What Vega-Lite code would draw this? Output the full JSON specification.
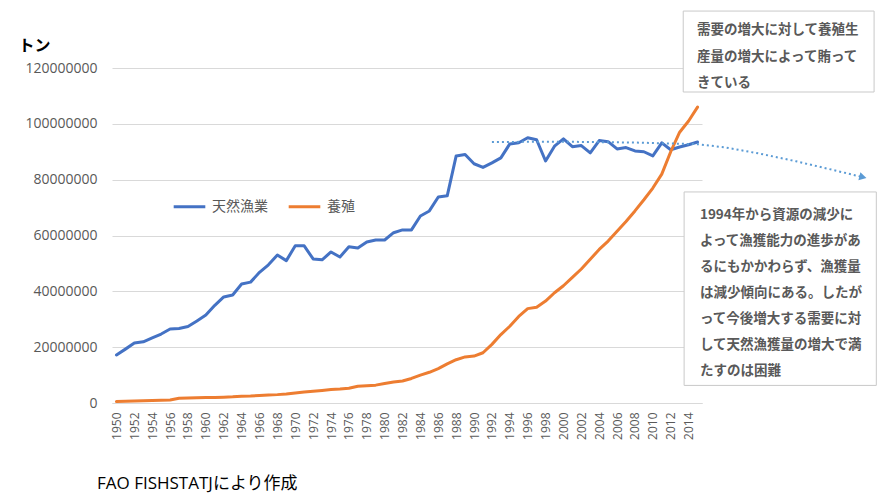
{
  "$schema": "https://vega.github.io/schema/vega-lite/v6.json",
  "autosize": {"type": "none"},
  "padding": {"left": 112, "top": 68, "right": 184, "bottom": 97},
  "width": 590,
  "height": 335,
  "background": "white",
  "config": {
    "view": {"stroke": null},
    "font": "Open Sans, Noto Sans CJK JP"
  },
  "title": {
    "text": "FAO FISHSTATJにより作成",
    "orient": "bottom",
    "anchor": "start",
    "frame": "group",
    "dx": -15,
    "offset": 37,
    "fontSize": 17,
    "fontWeight": "normal",
    "color": "#000000",
    "font": "Open Sans, Noto Sans CJK JP"
  },
  "resolve": {"scale": {"x": "independent", "y": "independent"}, "axis": {"x": "independent", "y": "independent"}},
  "datasets": {
    "main": [
      {"year": 1950, "series": "天然漁業", "value": 17200000},
      {"year": 1951, "series": "天然漁業", "value": 19300000},
      {"year": 1952, "series": "天然漁業", "value": 21500000},
      {"year": 1953, "series": "天然漁業", "value": 21900000},
      {"year": 1954, "series": "天然漁業", "value": 23300000},
      {"year": 1955, "series": "天然漁業", "value": 24700000},
      {"year": 1956, "series": "天然漁業", "value": 26500000},
      {"year": 1957, "series": "天然漁業", "value": 26700000},
      {"year": 1958, "series": "天然漁業", "value": 27400000},
      {"year": 1959, "series": "天然漁業", "value": 29400000},
      {"year": 1960, "series": "天然漁業", "value": 31500000},
      {"year": 1961, "series": "天然漁業", "value": 35000000},
      {"year": 1962, "series": "天然漁業", "value": 38000000},
      {"year": 1963, "series": "天然漁業", "value": 38700000},
      {"year": 1964, "series": "天然漁業", "value": 42600000},
      {"year": 1965, "series": "天然漁業", "value": 43300000},
      {"year": 1966, "series": "天然漁業", "value": 46800000},
      {"year": 1967, "series": "天然漁業", "value": 49500000},
      {"year": 1968, "series": "天然漁業", "value": 53000000},
      {"year": 1969, "series": "天然漁業", "value": 51000000},
      {"year": 1970, "series": "天然漁業", "value": 56300000},
      {"year": 1971, "series": "天然漁業", "value": 56300000},
      {"year": 1972, "series": "天然漁業", "value": 51600000},
      {"year": 1973, "series": "天然漁業", "value": 51300000},
      {"year": 1974, "series": "天然漁業", "value": 54100000},
      {"year": 1975, "series": "天然漁業", "value": 52300000},
      {"year": 1976, "series": "天然漁業", "value": 56000000},
      {"year": 1977, "series": "天然漁業", "value": 55500000},
      {"year": 1978, "series": "天然漁業", "value": 57700000},
      {"year": 1979, "series": "天然漁業", "value": 58400000},
      {"year": 1980, "series": "天然漁業", "value": 58400000},
      {"year": 1981, "series": "天然漁業", "value": 61000000},
      {"year": 1982, "series": "天然漁業", "value": 62000000},
      {"year": 1983, "series": "天然漁業", "value": 62000000},
      {"year": 1984, "series": "天然漁業", "value": 67000000},
      {"year": 1985, "series": "天然漁業", "value": 68800000},
      {"year": 1986, "series": "天然漁業", "value": 73800000},
      {"year": 1987, "series": "天然漁業", "value": 74200000},
      {"year": 1988, "series": "天然漁業", "value": 88500000},
      {"year": 1989, "series": "天然漁業", "value": 89000000},
      {"year": 1990, "series": "天然漁業", "value": 85700000},
      {"year": 1991, "series": "天然漁業", "value": 84400000},
      {"year": 1992, "series": "天然漁業", "value": 86000000},
      {"year": 1993, "series": "天然漁業", "value": 87800000},
      {"year": 1994, "series": "天然漁業", "value": 92800000},
      {"year": 1995, "series": "天然漁業", "value": 93200000},
      {"year": 1996, "series": "天然漁業", "value": 95000000},
      {"year": 1997, "series": "天然漁業", "value": 94300000},
      {"year": 1998, "series": "天然漁業", "value": 86700000},
      {"year": 1999, "series": "天然漁業", "value": 92000000},
      {"year": 2000, "series": "天然漁業", "value": 94600000},
      {"year": 2001, "series": "天然漁業", "value": 91800000},
      {"year": 2002, "series": "天然漁業", "value": 92200000},
      {"year": 2003, "series": "天然漁業", "value": 89600000},
      {"year": 2004, "series": "天然漁業", "value": 94000000},
      {"year": 2005, "series": "天然漁業", "value": 93600000},
      {"year": 2006, "series": "天然漁業", "value": 91000000},
      {"year": 2007, "series": "天然漁業", "value": 91500000},
      {"year": 2008, "series": "天然漁業", "value": 90300000},
      {"year": 2009, "series": "天然漁業", "value": 90000000},
      {"year": 2010, "series": "天然漁業", "value": 88500000},
      {"year": 2011, "series": "天然漁業", "value": 93200000},
      {"year": 2012, "series": "天然漁業", "value": 90700000},
      {"year": 2013, "series": "天然漁業", "value": 91700000},
      {"year": 2014, "series": "天然漁業", "value": 92500000},
      {"year": 2015, "series": "天然漁業", "value": 93500000},
      {"year": 1950, "series": "養殖", "value": 500000},
      {"year": 1951, "series": "養殖", "value": 600000},
      {"year": 1952, "series": "養殖", "value": 700000},
      {"year": 1953, "series": "養殖", "value": 800000},
      {"year": 1954, "series": "養殖", "value": 900000},
      {"year": 1955, "series": "養殖", "value": 1000000},
      {"year": 1956, "series": "養殖", "value": 1100000},
      {"year": 1957, "series": "養殖", "value": 1700000},
      {"year": 1958, "series": "養殖", "value": 1800000},
      {"year": 1959, "series": "養殖", "value": 1900000},
      {"year": 1960, "series": "養殖", "value": 2000000},
      {"year": 1961, "series": "養殖", "value": 2000000},
      {"year": 1962, "series": "養殖", "value": 2100000},
      {"year": 1963, "series": "養殖", "value": 2200000},
      {"year": 1964, "series": "養殖", "value": 2400000},
      {"year": 1965, "series": "養殖", "value": 2500000},
      {"year": 1966, "series": "養殖", "value": 2700000},
      {"year": 1967, "series": "養殖", "value": 2900000},
      {"year": 1968, "series": "養殖", "value": 3000000},
      {"year": 1969, "series": "養殖", "value": 3200000},
      {"year": 1970, "series": "養殖", "value": 3600000},
      {"year": 1971, "series": "養殖", "value": 3900000},
      {"year": 1972, "series": "養殖", "value": 4200000},
      {"year": 1973, "series": "養殖", "value": 4500000},
      {"year": 1974, "series": "養殖", "value": 4800000},
      {"year": 1975, "series": "養殖", "value": 5000000},
      {"year": 1976, "series": "養殖", "value": 5300000},
      {"year": 1977, "series": "養殖", "value": 6000000},
      {"year": 1978, "series": "養殖", "value": 6200000},
      {"year": 1979, "series": "養殖", "value": 6400000},
      {"year": 1980, "series": "養殖", "value": 7000000},
      {"year": 1981, "series": "養殖", "value": 7500000},
      {"year": 1982, "series": "養殖", "value": 7900000},
      {"year": 1983, "series": "養殖", "value": 8800000},
      {"year": 1984, "series": "養殖", "value": 10000000},
      {"year": 1985, "series": "養殖", "value": 11000000},
      {"year": 1986, "series": "養殖", "value": 12300000},
      {"year": 1987, "series": "養殖", "value": 14000000},
      {"year": 1988, "series": "養殖", "value": 15500000},
      {"year": 1989, "series": "養殖", "value": 16500000},
      {"year": 1990, "series": "養殖", "value": 16800000},
      {"year": 1991, "series": "養殖", "value": 18000000},
      {"year": 1992, "series": "養殖", "value": 21000000},
      {"year": 1993, "series": "養殖", "value": 24500000},
      {"year": 1994, "series": "養殖", "value": 27500000},
      {"year": 1995, "series": "養殖", "value": 31000000},
      {"year": 1996, "series": "養殖", "value": 33800000},
      {"year": 1997, "series": "養殖", "value": 34300000},
      {"year": 1998, "series": "養殖", "value": 36500000},
      {"year": 1999, "series": "養殖", "value": 39500000},
      {"year": 2000, "series": "養殖", "value": 42000000},
      {"year": 2001, "series": "養殖", "value": 45000000},
      {"year": 2002, "series": "養殖", "value": 48000000},
      {"year": 2003, "series": "養殖", "value": 51500000},
      {"year": 2004, "series": "養殖", "value": 55000000},
      {"year": 2005, "series": "養殖", "value": 58000000},
      {"year": 2006, "series": "養殖", "value": 61500000},
      {"year": 2007, "series": "養殖", "value": 65000000},
      {"year": 2008, "series": "養殖", "value": 68800000},
      {"year": 2009, "series": "養殖", "value": 72800000},
      {"year": 2010, "series": "養殖", "value": 77000000},
      {"year": 2011, "series": "養殖", "value": 82000000},
      {"year": 2012, "series": "養殖", "value": 90000000},
      {"year": 2013, "series": "養殖", "value": 97000000},
      {"year": 2014, "series": "養殖", "value": 101000000},
      {"year": 2015, "series": "養殖", "value": 106000000}
    ],
    "trend": [
      {"year": 1992, "value": 93500000},
      {"year": 2000, "value": 93600000},
      {"year": 2008, "value": 93300000},
      {"year": 2015, "value": 92700000},
      {"year": 2018, "value": 91600000},
      {"year": 2022, "value": 89300000},
      {"year": 2026, "value": 86600000},
      {"year": 2030, "value": 83600000},
      {"year": 2033.5, "value": 80900000}
    ],
    "arrowhead": [
      {"year": 2033.5, "value": 80900000}
    ]
  },
  "layer": [
    {
      "data": {"name": "main"},
      "mark": {"type": "line", "strokeWidth": 3, "strokeCap": "round", "strokeJoin": "round"},
      "encoding": {
        "x": {
          "field": "year", "type": "quantitative",
          "scale": {"domain": [1949.5, 2015.5], "nice": false, "zero": false},
          "axis": {
            "title": null,
            "values": [1950,1952,1954,1956,1958,1960,1962,1964,1966,1968,1970,1972,1974,1976,1978,1980,1982,1984,1986,1988,1990,1992,1994,1996,1998,2000,2002,2004,2006,2008,2010,2012,2014],
            "format": "d",
            "labelAngle": -90,
            "labelFontSize": 12,
            "labelColor": "#595959",
            "labelPadding": 9,
            "ticks": false,
            "grid": false,
            "domain": true,
            "domainColor": "#d9d9d9",
            "domainWidth": 1,
            "labelOverlap": false,
            "labelSeparation": 0,
            "labelFlush": false
          }
        },
        "y": {
          "field": "value", "type": "quantitative",
          "scale": {"domain": [0, 120000000], "nice": false},
          "axis": {
            "title": "トン",
            "titleAngle": 0,
            "titleX": -94,
            "titleY": -23,
            "titleAlign": "left",
            "titleBaseline": "middle",
            "titleFontSize": 16,
            "titleFontWeight": "bold",
            "titleColor": "#000000",
            "values": [0, 20000000, 40000000, 60000000, 80000000, 100000000, 120000000],
            "format": "d",
            "labelFontSize": 14,
            "labelColor": "#595959",
            "labelPadding": 15,
            "ticks": false,
            "domain": false,
            "grid": true,
            "gridColor": "#d9d9d9",
            "gridWidth": 1
          }
        },
        "color": {
          "field": "series", "type": "nominal",
          "scale": {"domain": ["天然漁業", "養殖"], "range": ["#4472C4", "#ED7D31"]},
          "legend": {
            "title": null,
            "orient": "none",
            "legendX": 60,
            "legendY": 121,
            "direction": "horizontal",
            "symbolType": "stroke",
            "symbolStrokeWidth": 3,
            "symbolSize": 1000,
            "labelFontSize": 14,
            "labelColor": "#595959",
            "labelOffset": 5,
            "columnPadding": 14
          }
        }
      }
    },
    {
      "data": {"name": "trend"},
      "mark": {"type": "line", "clip": false, "color": "#5B9BD5", "strokeWidth": 2, "strokeDash": [2, 3]},
      "encoding": {
        "x": {"field": "year", "type": "quantitative", "axis": null, "scale": {"domain": [1949.5, 2015.5], "nice": false, "zero": false}},
        "y": {"field": "value", "type": "quantitative", "axis": null, "scale": {"domain": [0, 120000000], "nice": false}}
      }
    },
    {
      "data": {"name": "arrowhead"},
      "mark": {"type": "point", "clip": false, "shape": "triangle-right", "filled": true, "color": "#5B9BD5", "size": 70, "angle": 14, "opacity": 1},
      "encoding": {
        "x": {"field": "year", "type": "quantitative", "axis": null, "scale": {"domain": [1949.5, 2015.5], "nice": false, "zero": false}},
        "y": {"field": "value", "type": "quantitative", "axis": null, "scale": {"domain": [0, 120000000], "nice": false}}
      }
    },
    {
      "data": {"values": [{}]},
      "mark": {"type": "rect", "clip": false, "fill": "white", "stroke": "#c9c9c9", "strokeWidth": 1},
      "encoding": {
        "x": {"datum": 2013.4, "type": "quantitative", "axis": null, "scale": {"domain": [1949.5, 2015.5], "nice": false, "zero": false}},
        "x2": {"datum": 2034.75},
        "y": {"datum": 140400000, "type": "quantitative", "axis": null, "scale": {"domain": [0, 120000000], "nice": false}},
        "y2": {"datum": 111400000}
      }
    },
    {
      "data": {"values": [{}]},
      "mark": {"type": "rect", "clip": false, "fill": "white", "stroke": "#c9c9c9", "strokeWidth": 1},
      "encoding": {
        "x": {"datum": 2013.5, "type": "quantitative", "axis": null, "scale": {"domain": [1949.5, 2015.5], "nice": false, "zero": false}},
        "x2": {"datum": 2035.0},
        "y": {"datum": 75600000, "type": "quantitative", "axis": null, "scale": {"domain": [0, 120000000], "nice": false}},
        "y2": {"datum": 6300000}
      }
    },
    {
      "data": {"values": [{}]},
      "mark": {"type": "text", "clip": false, "align": "left", "baseline": "middle", "fontSize": 13.5, "fontWeight": "bold", "color": "#595959", "lineHeight": 26.5, "font": "Noto Sans CJK JP"},
      "encoding": {
        "x": {"datum": 2014.94, "type": "quantitative", "axis": null, "scale": {"domain": [1949.5, 2015.5], "nice": false, "zero": false}},
        "y": {"datum": 133600000, "type": "quantitative", "axis": null, "scale": {"domain": [0, 120000000], "nice": false}},
        "text": {"value": ["需要の増大に対して養殖生", "産量の増大によって賄って", "きている"]}
      }
    },
    {
      "data": {"values": [{}]},
      "mark": {"type": "text", "clip": false, "align": "left", "baseline": "middle", "fontSize": 13.5, "fontWeight": "bold", "color": "#595959", "lineHeight": 26, "font": "Noto Sans CJK JP"},
      "encoding": {
        "x": {"datum": 2015.27, "type": "quantitative", "axis": null, "scale": {"domain": [1949.5, 2015.5], "nice": false, "zero": false}},
        "y": {"datum": 67300000, "type": "quantitative", "axis": null, "scale": {"domain": [0, 120000000], "nice": false}},
        "text": {"value": ["1994年から資源の減少に", "よって漁獲能力の進歩があ", "るにもかかわらず、漁獲量", "は減少傾向にある。したが", "って今後増大する需要に対", "して天然漁獲量の増大で満", "たすのは困難"]}
      }
    }
  ]
}
